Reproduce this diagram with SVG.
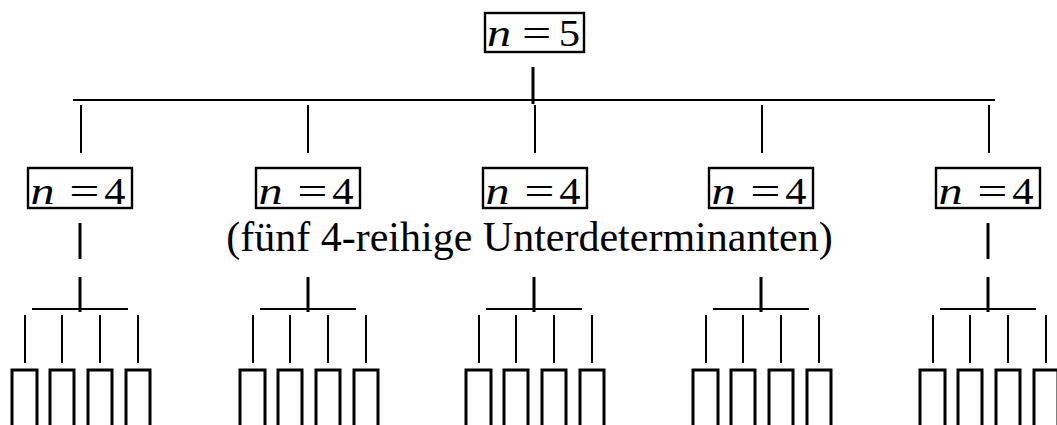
<svg xmlns="http://www.w3.org/2000/svg" width="1057" height="425" viewBox="0 0 1057 425">
<style>
.box{fill:none;stroke:#000;stroke-width:2.4}
.t{font-family:"Liberation Serif","Times New Roman",serif;font-size:37px;fill:#000;text-anchor:middle}
.i{font-style:italic}
.thin{stroke:#000;stroke-width:2;fill:none}
.thick{stroke:#000;stroke-width:3;fill:none}
.cap{font-family:"Liberation Serif","Times New Roman",serif;font-size:42px;fill:#000}
</style>
<defs>
<g id="eq4">
<rect class="box" x="-52" y="168" width="104" height="40"/>
<g transform="translate(-37.5,204) scale(1.3,1)"><text class="t i" x="0" y="0">n</text></g>
<g transform="translate(4.5,204) scale(1.45,1)"><text class="t" x="0" y="0">=</text></g>
<g transform="translate(35,204) scale(1.15,1)"><text class="t" x="0" y="0">4</text></g>
</g>
<g id="sub">
<line class="thick" x1="0" y1="277" x2="0" y2="312"/>
<line class="thin" x1="-48" y1="309" x2="48" y2="309"/>
<line class="thin" x1="-55" y1="315" x2="-55" y2="363"/>
<line class="thin" x1="-18" y1="315" x2="-18" y2="363"/>
<line class="thin" x1="20" y1="315" x2="20" y2="363"/>
<line class="thin" x1="58" y1="315" x2="58" y2="363"/>
<path class="thick" d="M-68 426V370H-43V426"/>
<path class="thick" d="M-30 426V370H-6V426"/>
<path class="thick" d="M8 426V370H32V426"/>
<path class="thick" d="M46 426V370H70V426"/>
</g>
</defs>
<g id="root">
<rect class="box" x="485" y="13" width="99" height="39"/>
<g transform="translate(499,45.5) scale(1.3,1)"><text class="t i" x="0" y="0">n</text></g>
<g transform="translate(536.5,45.5) scale(1.4,1)"><text class="t" x="0" y="0">=</text></g>
<g transform="translate(569.5,45.5) scale(1.15,1)"><text class="t" x="0" y="0">5</text></g>
</g>
<g id="connectors">
<line class="thick" x1="533" y1="67" x2="533" y2="104"/>
<line class="thin" x1="73" y1="100" x2="995" y2="100"/>
<line class="thin" x1="81" y1="105" x2="81" y2="153"/>
<line class="thin" x1="308" y1="105" x2="308" y2="153"/>
<line class="thin" x1="535" y1="105" x2="535" y2="153"/>
<line class="thin" x1="762" y1="105" x2="762" y2="153"/>
<line class="thin" x1="989" y1="105" x2="989" y2="153"/>
<line class="thick" x1="80" y1="223" x2="80" y2="259"/>
<line class="thick" x1="988" y1="223" x2="988" y2="259"/>
</g>
<g id="node1"><use href="#eq4" x="80"/><use href="#sub" x="80"/></g>
<g id="node2"><use href="#eq4" x="308"/><use href="#sub" x="308"/></g>
<g id="node3"><use href="#eq4" x="535"/><use href="#sub" x="534"/></g>
<g id="node4"><use href="#eq4" x="761"/><use href="#sub" x="761"/></g>
<g id="node5"><use href="#eq4" x="988"/><use href="#sub" x="988"/></g>
<g id="caption"><text class="cap" x="529.5" y="251" text-anchor="middle">(fünf 4-reihige Unterdeterminanten)</text></g>
</svg>
